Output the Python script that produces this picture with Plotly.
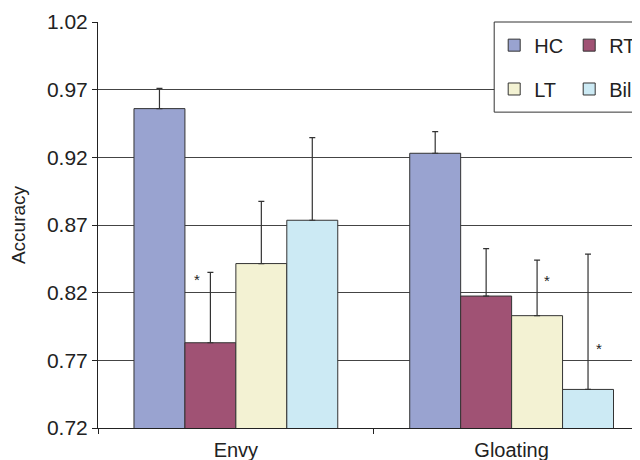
import plotly.graph_objects as go

categories = ["Envy", "Gloating"]
groups = ["HC", "RT", "LT", "Bilat"]
hc = [0.956, 0.923]
hc_err = [0.015, 0.016]
rt = [0.783, 0.8175]
rt_err = [0.052, 0.035]
lt = [0.8415, 0.803]
lt_err = [0.046, 0.041]
bilat = [0.8735, 0.7485]
bilat_err = [0.061, 0.100]
y_ticks = [0.72, 0.77, 0.82, 0.87, 0.92, 0.97, 1.02]
# significance markers (x in category units, y in data units)
star_x = [-0.14, 1.129, 1.317]
star_y = [0.8296, 0.829, 0.779]

colors = ["#99A3D0", "#A05274", "#F3F2D3", "#CCEAF4"]
values = [hc, rt, lt, bilat]
errors = [hc_err, rt_err, lt_err, bilat_err]
legend_ids = ["legend", "legend", "legend2", "legend2"]

FONT = "Liberation Sans, Arial, sans-serif"
fig = go.Figure()
for name, vals, errs, col, lg in zip(groups, values, errors, colors, legend_ids):
    fig.add_trace(go.Bar(
        x=categories, y=vals, name=name, legend=lg,
        marker=dict(color=col, line=dict(color="#333333", width=1)),
        error_y=dict(type="data", array=errs, arrayminus=[0] * len(errs),
                     symmetric=False, color="#333333", thickness=1.2, width=3),
    ))

for sx, sy in zip(star_x, star_y):
    fig.add_annotation(x=sx, y=sy, text="*", showarrow=False,
                       font=dict(size=15, color="#222222", family=FONT))

# legend frame
fig.add_shape(type="rect", xref="paper", yref="paper", x0=0.731, x1=1.3,
              y0=0.778, y1=1.0, fillcolor="white",
              line=dict(color="#333333", width=1), layer="above")

leg_common = dict(orientation="h", xanchor="left", yanchor="middle",
                  bgcolor="rgba(0,0,0,0)", borderwidth=0,
                  entrywidth=30, entrywidthmode="pixels",
                  font=dict(size=20, color="#222222", family=FONT))
# page body adds an 8px offset, so the figure is 8px smaller and margins shifted
fig.update_layout(
    template="none",
    width=632, height=452,
    margin=dict(l=89.5, r=0, t=14.3, b=32.3, autoexpand=False),
    paper_bgcolor="white", plot_bgcolor="white",
    barmode="group", bargap=0.261, bargroupgap=0,
    font=dict(family=FONT, color="#222222"),
    showlegend=True,
    legend=dict(x=0.731, y=0.943, **leg_common),
    legend2=dict(x=0.731, y=0.835, **leg_common),
    xaxis=dict(type="category", range=[-0.5, 1.4656],
               tickson="boundaries", ticks="outside", ticklen=5,
               tickcolor="#222222", showline=True, linecolor="#222222",
               linewidth=1, showgrid=False, zeroline=False,
               ticklabelstandoff=4,
               tickfont=dict(size=20, color="#222222", family=FONT)),
    yaxis=dict(range=[0.72, 1.02], tickvals=y_ticks, tickformat=".2f",
               ticks="outside", ticklen=5, tickcolor="#222222",
               showline=True, linecolor="#222222", linewidth=1,
               showgrid=True, gridcolor="#444444", gridwidth=1,
               zeroline=False,
               tickfont=dict(size=21, color="#222222", family=FONT),
               title=dict(text="Accuracy", standoff=19,
                          font=dict(size=19, color="#222222", family=FONT))),
)

fig.write_html("out.html")
